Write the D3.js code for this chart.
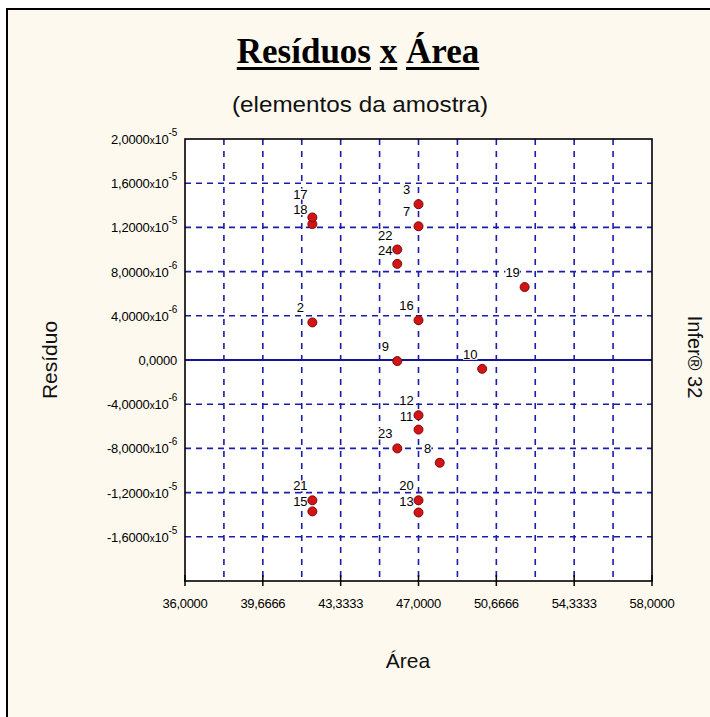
<!DOCTYPE html>
<html><head><meta charset="utf-8">
<script src="https://cdn.jsdelivr.net/npm/d3@7"></script>
<style>body{margin:0;background:#fff;} svg{display:block;}</style>
</head><body>
<svg id="c" width="710" height="717"></svg>
<script>
// ---- data ----
const labels  = ["3","7","18","17","22","24","19","2","16","9","10","12","11","23","8","21","15","20","13"];
const areas   = [47, 47, 42, 42, 46, 46, 52, 42, 47, 46, 50, 47, 47, 46, 48, 42, 42, 47, 47];
const residuals = [14.1e-6, 12.1e-6, 12.3e-6, 12.9e-6, 10.0e-6, 8.7e-6, 6.6e-6, 3.4e-6, 3.6e-6, -0.1e-6, -0.8e-6,
                   -5.0e-6, -6.3e-6, -8.0e-6, -9.3e-6, -12.7e-6, -13.7e-6, -12.7e-6, -13.8e-6];
const yTickValues = [2e-5, 1.6e-5, 1.2e-5, 8e-6, 4e-6, 0, -4e-6, -8e-6, -1.2e-5, -1.6e-5];
const yTickMant   = ["2,0000","1,6000","1,2000","8,0000","4,0000","0,0000","-4,0000","-8,0000","-1,2000","-1,6000"];
const yTickExp    = ["-5","-5","-5","-6","-6","","-6","-6","-5","-5"];
const xTickValues = [36, 36+11/3, 36+22/3, 47, 36+44/3, 36+55/3, 58];
const xTickLabels = ["36,0000","39,6666","43,3333","47,0000","50,6666","54,3333","58,0000"];

const svg = d3.select("#c");
const L = 185, R = 652, T = 139, B = 581;
const x = d3.scaleLinear().domain([36, 58]).range([L, R]);
const y = d3.scaleLinear().domain([-2e-5, 2e-5]).range([B, T]);

// outer frame
svg.append("rect").attr("x", 7).attr("y", 9).attr("width", 720).attr("height", 720)
  .attr("fill", "#fdf9ee").attr("stroke", "#000").attr("stroke-width", 2);

// title
const titleWords = ["Resíduos", "x", "Área"];
const tg = svg.append("g");
const tfont = "bold 35px 'Liberation Serif', 'Times New Roman', serif";
const tmp = tg.append("text").style("font", tfont).text("\u00a0");
const spaceW = tmp.node().getComputedTextLength() || 9;
tmp.remove();
const wEls = titleWords.map(w => tg.append("text").style("font", tfont).attr("fill", "#000").text(w));
const widths = wEls.map(e => e.node().getComputedTextLength());
const total = d3.sum(widths) + spaceW * (titleWords.length - 1);
let cx = 358 - total / 2;
wEls.forEach((e, i) => {
  e.attr("x", cx).attr("y", 63);
  tg.append("rect").attr("x", cx).attr("y", 67).attr("width", widths[i]).attr("height", 3).attr("fill", "#000");
  cx += widths[i] + spaceW;
});

svg.append("text").attr("x", 360).attr("y", 112).attr("text-anchor", "middle")
  .style("font", "22px 'Liberation Sans', Arial, sans-serif").attr("fill", "#111")
  .attr("textLength", 256).attr("lengthAdjust", "spacingAndGlyphs")
  .text("(elementos da amostra)");

// plot background
svg.append("rect").attr("x", L).attr("y", T).attr("width", R - L).attr("height", B - T).attr("fill", "#fff");

// grid
const gridColor = "#1c1ca8";
const vgrid = d3.range(1, 12).map(k => 36 + k * 11 / 6);
svg.append("g").selectAll("line").data(vgrid).join("line")
  .attr("x1", d => x(d)).attr("x2", d => x(d)).attr("y1", T).attr("y2", B)
  .attr("stroke", gridColor).attr("stroke-width", 1.6).attr("stroke-dasharray", "6,6");
svg.append("g").selectAll("line").data(yTickValues.filter(v => v !== 0 && v < 2e-5)).join("line")
  .attr("x1", L).attr("x2", R).attr("y1", d => y(d)).attr("y2", d => y(d))
  .attr("stroke", gridColor).attr("stroke-width", 1.6).attr("stroke-dasharray", "6,5");
svg.append("line").attr("x1", L).attr("x2", R).attr("y1", y(0)).attr("y2", y(0))
  .attr("stroke", "#14149a").attr("stroke-width", 1.8);

// frame of plot
svg.append("rect").attr("x", L).attr("y", T).attr("width", R - L).attr("height", B - T)
  .attr("fill", "none").attr("stroke", "#000").attr("stroke-width", 1.6);

// x axis ticks + labels
svg.append("g").selectAll("line").data(xTickValues).join("line")
  .attr("x1", d => x(d)).attr("x2", d => x(d)).attr("y1", B - 6).attr("y2", B + 5)
  .attr("stroke", "#000").attr("stroke-width", 1.5);
svg.append("g").selectAll("text").data(xTickValues).join("text")
  .attr("x", d => x(d)).attr("y", 608).attr("text-anchor", "middle")
  .style("font", "13px 'Liberation Sans', Arial, sans-serif").attr("letter-spacing", "-0.3")
  .attr("fill", "#000").text((d, i) => xTickLabels[i]);

// y tick labels
const yl = svg.append("g").selectAll("text").data(yTickValues).join("text")
  .attr("x", 177).attr("y", d => y(d) + 5).attr("text-anchor", "end")
  .style("font", "13px 'Liberation Sans', Arial, sans-serif").attr("letter-spacing", "-0.2").attr("fill", "#000");
yl.each(function(d, i) {
  const t = d3.select(this);
  t.append("tspan").text(yTickMant[i]);
  if (yTickExp[i]) {
    t.append("tspan").style("font-size", "10px").text("x");
    t.append("tspan").text("10");
    t.append("tspan").attr("dy", -8).style("font-size", "10px").text(yTickExp[i]);
  }
});

// axis titles
svg.append("text").attr("transform", "translate(57,360) rotate(-90)").attr("text-anchor", "middle")
  .style("font", "21px 'Liberation Sans', Arial, sans-serif").attr("fill", "#111").text("Resíduo");
svg.append("text").attr("x", 408).attr("y", 668).attr("text-anchor", "middle")
  .style("font", "21px 'Liberation Sans', Arial, sans-serif").attr("fill", "#111").text("Área");
svg.append("text").attr("transform", "translate(688,357) rotate(90)").attr("text-anchor", "middle")
  .style("font", "20px 'Liberation Sans', Arial, sans-serif").attr("fill", "#111").text("Infer® 32");

// point labels (white box; later labels are moved off earlier ones)
const pts = labels.map((l, i) => ({l, a: areas[i], r: residuals[i]}));
const lg = svg.append("g");
const placed = [];
pts.forEach(p => {
  let px = x(p.a) - 12, py = y(p.r) - 10;
  const t = lg.append("text").attr("x", px).attr("y", py).attr("text-anchor", "middle")
    .style("font", "13px 'Liberation Sans', Arial, sans-serif").attr("fill", "#000").text(p.l);
  let bb = t.node().getBBox();
  for (let iter = 0; iter < 5; iter++) {
    const hit = placed.find(q => bb.x < q.x + q.width && bb.x + bb.width > q.x &&
                                 bb.y < q.y + q.height && bb.y + bb.height > q.y);
    if (!hit) break;
    const below = (bb.y + bb.height / 2) > (hit.y + hit.height / 2);
    py = below ? hit.y + hit.height + (py - bb.y) + 0.5 : hit.y - (bb.y + bb.height - py) - 0.5;
    t.attr("y", py);
    bb = t.node().getBBox();
  }
  placed.push(bb);
  lg.insert("rect", function() { return t.node(); })
    .attr("x", bb.x).attr("y", bb.y + 2).attr("width", bb.width).attr("height", bb.height - 4).attr("fill", "#fff");
});

// points
svg.append("g").selectAll("circle").data(pts).join("circle")
  .attr("cx", d => x(d.a)).attr("cy", d => y(d.r)).attr("r", 4.5)
  .attr("fill", "#d41414").attr("stroke", "#7a0a0a").attr("stroke-width", 1);
</script>
</body></html>
